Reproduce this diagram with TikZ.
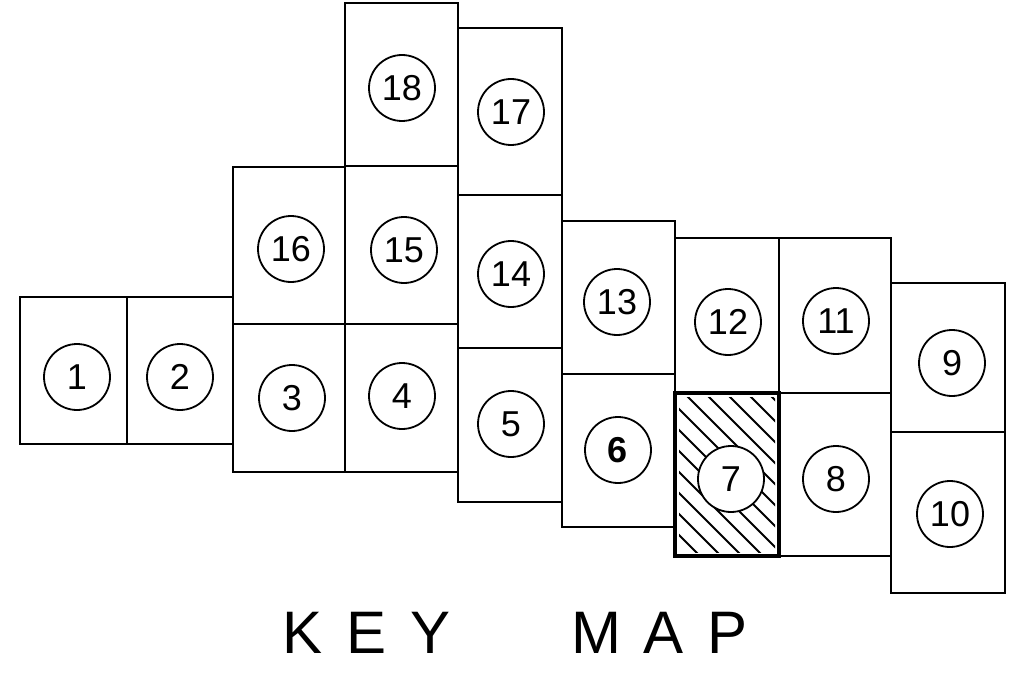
\documentclass[tikz,border=0pt]{standalone}
\usepackage{fontspec}
\setmainfont{Liberation Sans}
\usetikzlibrary{fit}

\begin{document}
\begin{tikzpicture}[
x=1pt, y=-1pt,
    sheet/.style={rectangle, draw, line width=2.2pt, inner sep=0pt, outer sep=0pt},
    keysheet/.style={sheet, line width=4.5pt},
    num/.style={circle, draw, line width=1.8pt, fill=white, minimum size=66pt, inner sep=0pt, font=\fontsize{36}{36}\selectfont},
    hatch/.style={draw, line width=2pt},
    title/.style={inner sep=0pt, font=\fontsize{60}{60}\selectfont}
]
    \useasboundingbox (0,0) rectangle (1012,674);

    % --- Sheets, west to east ---
    \node[sheet, fit={(20,297) (127,444)}] (s1) {};
    \node[sheet, fit={(127,297) (233,444)}] (s2) {};
    \node[sheet, fit={(233,167) (345,324)}] (s16) {};
    \node[sheet, fit={(233,324) (345,472)}] (s3) {};
    \node[sheet, fit={(345,3) (458,166)}] (s18) {};
    \node[sheet, fit={(345,166) (458,324)}] (s15) {};
    \node[sheet, fit={(345,324) (458,472)}] (s4) {};
    \node[sheet, fit={(458,28) (562,195)}] (s17) {};
    \node[sheet, fit={(458,195) (562,348)}] (s14) {};
    \node[sheet, fit={(458,348) (562,502)}] (s5) {};
    \node[sheet, fit={(562,221) (675,374)}] (s13) {};
    \node[sheet, fit={(562,374) (675,527)}] (s6) {};
    \node[sheet, fit={(675,238) (779,393)}] (s12) {};
    \node[sheet, fit={(779,238) (891,393)}] (s11) {};
    \node[sheet, fit={(779,393) (891,556)}] (s8) {};
    \node[sheet, fit={(891,283) (1005,432)}] (s9) {};
    \node[sheet, fit={(891,432) (1005,593)}] (s10) {};

    % Sheet 7 (hatched, heavy border)
    \begin{scope}
        \clip (679,397) rectangle (775,552);
        \foreach \d in {-180,-159,...,110}
            \draw[hatch] (675+\d,393) -- ++(190,190);
    \end{scope}
    \node[keysheet, fit={(675,393) (779,556)}] (s7) {};

    % --- Sheet numbers ---
    \node[num] (n1) at (77,377) {1};
    \node[num] (n2) at (180,377) {2};
    \node[num] (n3) at (292,398) {3};
    \node[num] (n4) at (402,396) {4};
    \node[num] (n5) at (511,424) {5};
    \node[num, font=\fontsize{36}{36}\selectfont\bfseries] (n6) at (618,450) {6};
    \node[num] (n7) at (731,479) {7};
    \node[num] (n8) at (836,479) {8};
    \node[num] (n9) at (952,363) {9};
    \node[num] (n10) at (950,514) {10};
    \node[num] (n11) at (836,321) {11};
    \node[num] (n12) at (728,322) {12};
    \node[num] (n13) at (617,302) {13};
    \node[num] (n14) at (511,274) {14};
    \node[num] (n15) at (404,250) {15};
    \node[num] (n16) at (291,249) {16};
    \node[num] (n17) at (511,112) {17};
    \node[num] (n18) at (402,88) {18};

    % --- Title ---
    \node[title, anchor=base west] (key) at (282,653) {K\hspace{24pt}E\hspace{24pt}Y};
    \node[title, anchor=base west] (map) at (571,653) {M\hspace{22pt}A\hspace{24pt}P};

\end{tikzpicture}
\end{document}
